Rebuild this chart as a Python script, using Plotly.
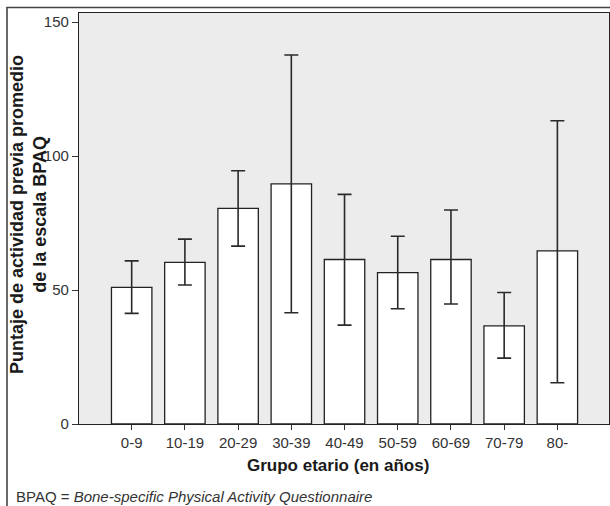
import plotly.graph_objects as go

categories = ["0-9", "10-19", "20-29", "30-39", "40-49", "50-59", "60-69", "70-79", "80-"]
means = [51.0, 60.3, 80.5, 89.6, 61.4, 56.5, 61.4, 36.6, 64.6]
ci_upper = [60.9, 69.0, 94.5, 137.7, 85.7, 70.1, 79.9, 49.1, 113.2]
ci_lower = [41.3, 51.9, 66.4, 41.5, 36.9, 43.0, 44.8, 24.6, 15.4]
y_ticks = [0, 50, 100, 150]

err_plus = [u - m for u, m in zip(ci_upper, means)]
err_minus = [m - l for m, l in zip(means, ci_lower)]

TICKFONT = "Liberation Sans Narrow, Arial Narrow, Liberation Sans, Arial, sans-serif"
BOLDFONT = "Liberation Sans, Arial, sans-serif"

fig = go.Figure()
fig.add_trace(go.Bar(
    x=list(range(len(categories))),
    y=means,
    marker=dict(color="white", line=dict(color="#222222", width=1.3)),
    error_y=dict(type="data", symmetric=False, array=err_plus, arrayminus=err_minus,
                 color="#2a2a2a", thickness=1.6, width=7),
    showlegend=False,
    hoverinfo="skip",
))

W, H = 610, 506
ml, mr, mt, mb = 79, 1, 13, 82
pw, ph = W - ml - mr, H - mt - mb

def px(xp):
    return (xp - ml) / pw

def py(yp):
    return (H - mb - yp) / ph

border = dict(color="#444444", width=1.6)

fig.update_layout(
    width=W, height=H,
    margin=dict(l=ml, r=mr, t=mt, b=mb, pad=0, autoexpand=False),
    paper_bgcolor="white",
    plot_bgcolor="#ececec",
    bargap=0.24,
    xaxis=dict(
        range=[-0.99, 8.97], automargin=False,
        tickmode="array", tickvals=list(range(len(categories))), ticktext=categories,
        ticks="outside", ticklen=5, tickcolor="#333333", tickwidth=1,
        showline=True, linecolor="#222222", linewidth=1.3, mirror=True,
        showgrid=False, zeroline=False,
        tickfont=dict(family=TICKFONT, size=15, color="#333333"),
    ),
    yaxis=dict(
        range=[0, 153.4], automargin=False,
        tickmode="array", tickvals=y_ticks,
        ticks="outside", ticklen=6, tickcolor="#333333", tickwidth=1,
        showline=True, linecolor="#222222", linewidth=1.3, mirror=True,
        showgrid=False, zeroline=False,
        tickfont=dict(family=TICKFONT, size=15, color="#333333"),
    ),
    annotations=[
        dict(text="Puntaje de actividad previa promedio<br>de la escala BPAQ",
             xref="paper", yref="paper", x=px(29), y=py(215),
             xanchor="center", yanchor="middle", textangle=-90, showarrow=False,
             font=dict(family=BOLDFONT, size=18, color="#1a1a1a", weight="bold")),
        dict(text="Grupo etario (en años)",
             xref="paper", yref="paper", x=px(338), y=py(465),
             xanchor="center", yanchor="middle", showarrow=False,
             font=dict(family=BOLDFONT, size=17, color="#1a1a1a", weight="bold")),
        dict(text="BPAQ = <i>Bone-specific Physical Activity Questionnaire</i>",
             xref="paper", yref="paper", x=px(14), y=py(497),
             xanchor="left", yanchor="middle", showarrow=False,
             font=dict(family="Liberation Sans, Arial, sans-serif", size=15, color="#333333")),
    ],
    shapes=[
        dict(type="line", xref="paper", yref="paper", layer="above",
             x0=px(7), x1=px(7), y0=py(7), y1=py(520), line=border),
        dict(type="line", xref="paper", yref="paper", layer="below",
             x0=px(6.5), x1=px(610), y0=py(7.5), y1=py(7.5), line=border),
    ],
)

fig.write_html(
    "out.html",
    config={"displayModeBar": False},
    post_script="document.body.style.margin='0';document.body.style.padding='0';",
)
